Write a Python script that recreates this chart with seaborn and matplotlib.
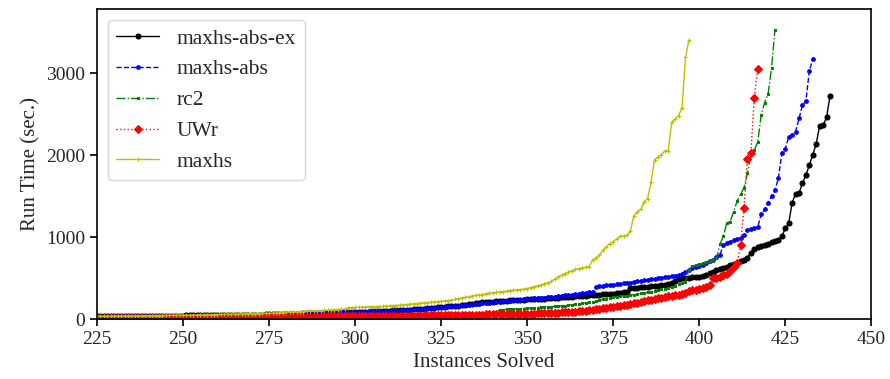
import matplotlib
matplotlib.use("Agg")
import matplotlib.pyplot as plt
import seaborn as sns
import numpy as np
import pandas as pd

# run times (sec.) of the k-th solved instance, starting at instance 225
start = 225

maxhs_abs_ex = [
    32, 32, 33, 33, 34, 34, 35, 35, 36, 36,
    37, 37, 38, 38, 39, 39, 40, 40, 41, 41,
    42, 42, 43, 43, 44, 44, 45, 45, 46, 46,
    47, 47, 48, 48, 49, 49, 50, 50, 51, 51,
    52, 52, 53, 53, 54, 54, 55, 55, 56, 57,
    58, 59, 60, 61, 62, 63, 64, 65, 66, 68,
    70, 71, 72, 73, 74, 75, 76, 77, 78, 80,
    82, 83, 84, 85, 86, 87, 88, 89, 90, 92,
    94, 96, 98, 100, 102, 104, 106, 108, 110, 112,
    114, 117, 120, 123, 126, 129, 132, 135, 138, 142,
    146, 150, 154, 158, 162, 166, 170, 176, 182, 188,
    194, 199, 203, 207, 210, 213, 216, 219, 222, 225,
    228, 231, 234, 236, 238, 240, 242, 244, 246, 248,
    251, 254, 257, 260, 263, 266, 269, 272, 275, 278,
    281, 284, 287, 290, 293, 296, 299, 302, 305, 308,
    311, 314, 322, 330, 335, 374, 378, 382, 386, 390,
    394, 398, 402, 405, 410, 418, 426, 435, 460, 484,
    496, 502, 506,
    508, 510, 512, 520, 540, 565, 580, 598, 610, 620,
    640, 655, 670, 690, 705, 720, 750, 810, 860, 875,
    890, 900, 915, 940, 955, 965, 1010, 1105, 1170, 1420,
    1530, 1535, 1660, 1755, 1880, 2005, 2140, 2360, 2365, 2460,
    2720,
]

maxhs_abs = [
    30, 30, 31, 31, 32, 32, 33, 33, 34, 34,
    35, 35, 36, 36, 37, 37, 38, 38, 39, 39,
    40, 40, 41, 41, 42, 42, 43, 43, 44, 44,
    45, 45, 46, 46, 47, 47, 48, 48, 49, 49,
    50, 50, 51, 51, 52, 52, 53, 53, 54, 55,
    56, 57, 58, 59, 60, 62, 64, 66, 68, 70,
    72, 73, 74, 75, 76, 77, 78, 79, 80, 82,
    84, 85, 86, 87, 88, 89, 90, 91, 92, 93,
    94, 96, 98, 100, 102, 104, 106, 108, 110, 112,
    114, 117, 120, 123, 126, 129, 132, 135, 138, 142,
    146, 150, 154, 158, 162, 166, 170, 174, 178, 182,
    186, 190, 194, 198, 202, 206, 210, 214, 218, 222,
    226, 230, 234, 238, 242, 246, 249, 252, 255, 258,
    262, 266, 270, 274, 279, 284, 289, 294, 300, 306,
    312, 318, 324, 330, 335, 395, 400, 405, 410, 415,
    420, 425, 430, 435, 440, 445, 452, 460, 467, 474,
    480, 486, 492, 498, 504, 510, 516, 522, 530, 540,
    555, 577, 600,
    626, 638, 650, 665, 690, 705, 720, 760, 780, 902,
    925, 943, 963, 975, 990, 1030, 1085, 1100, 1110, 1120,
    1280, 1340, 1410, 1500, 1570, 1720, 2020, 2080, 2220, 2250,
    2285, 2450, 2610, 2660, 3030, 3170,
]

rc2 = [
    22, 22, 23, 23, 24, 24, 25, 25, 26, 26,
    27, 27, 28, 28, 29, 29, 30, 30, 31, 31,
    32, 32, 33, 33, 34, 34, 35, 35, 36, 36,
    37, 37, 38, 38, 39, 39, 40, 40, 41, 41,
    42, 42, 43, 43, 44, 44, 45, 45, 46, 46,
    47, 47, 48, 48, 49, 49, 50, 50, 51, 51,
    52, 52, 53, 53, 54, 54, 55, 55, 56, 56,
    57, 57, 58, 58, 59, 59, 60, 60, 61, 61,
    62, 62, 63, 63, 64, 64, 65, 65, 66, 66,
    67, 67, 68, 68, 69, 69, 70, 70, 71, 71,
    72, 72, 73, 73, 74, 74, 75, 75, 76, 76,
    77, 77, 77, 78, 78, 78, 79, 115, 117, 119,
    121, 123, 125, 127, 129, 131, 134, 137, 140, 143,
    146, 149, 152, 155, 158, 162, 166, 170, 175, 181,
    187, 193, 199, 205, 211, 220, 230, 240, 250, 258,
    264, 270, 276, 281, 287, 293, 300, 306, 313, 320,
    328, 336, 345, 354, 362, 370, 378, 394, 405, 427,
    440, 455, 600,
    646, 660, 667, 679, 699, 710, 725, 740, 910, 1010,
    1170, 1190, 1310, 1440, 1520, 1600, 1780, 2000, 2060, 2160,
    2490, 2640, 2740, 3060, 3530,
]

uwr = [
    10, 10, 10, 11, 11, 11, 12, 12, 12, 13,
    13, 13, 14, 14, 14, 15, 15, 15, 16, 16,
    16, 17, 17, 17, 18, 18, 18, 19, 19, 19,
    20, 20, 20, 21, 21, 21, 22, 22, 22, 23,
    23, 23, 24, 24, 24, 25, 25, 25, 26, 26,
    26, 27, 27, 27, 28, 28, 28, 29, 29, 29,
    30, 30, 30, 31, 31, 31, 32, 32, 32, 33,
    33, 33, 34, 34, 34, 35, 35, 35, 36, 36,
    37, 37, 38, 38, 39, 39, 40, 40, 41, 41,
    42, 42, 43, 43, 44, 44, 45, 45, 46, 46,
    47, 47, 48, 48, 49, 49, 50, 51, 52, 53,
    54, 55, 56, 57, 58, 59, 60, 61, 62, 63,
    64, 64, 65, 65, 66, 66, 67, 68, 69, 70,
    72, 74, 76, 78, 80, 82, 84, 86, 89, 92,
    96, 100, 104, 108, 113, 118, 124, 130, 136, 142,
    148, 154, 160, 168, 176, 184, 192, 201, 211, 220,
    229, 238, 246, 254, 262, 270, 278, 285, 293, 300,
    306, 313, 341,
    350, 355, 362, 375, 390, 420, 500, 505, 515, 535,
    555, 590, 630, 680, 900, 1360, 1950, 2030, 2700, 3050,
]

maxhs = [
    35, 35, 36, 36, 37, 37, 38, 38, 39, 39,
    40, 40, 41, 41, 42, 42, 43, 43, 44, 44,
    45, 45, 46, 46, 47, 47, 48, 48, 49, 50,
    51, 52, 53, 54, 55, 56, 57, 58, 59, 60,
    61, 62, 63, 64, 65, 66, 67, 68, 69, 70,
    72, 74, 76, 78, 80, 82, 84, 86, 88, 90,
    92, 94, 96, 98, 100, 103, 106, 109, 112, 115,
    117, 119, 121, 138, 140, 142, 144, 146, 148, 150,
    151, 152, 153, 155, 158, 160, 163, 166, 170, 174,
    178, 182, 186, 190, 194, 198, 202, 206, 210, 214,
    218, 222, 226, 232, 240, 250, 258, 266, 272, 280,
    288, 293, 300, 310, 315, 320, 325, 330, 336, 342,
    348, 352, 356, 360, 364, 372, 385, 395, 405,
    415, 430, 445, 460, 490, 515, 535, 555, 575, 590,
    605, 615, 625, 632, 640, 720, 750, 780, 840, 885,
    920, 945, 980, 1010, 1015, 1020, 1077, 1260, 1310, 1340,
    1430, 1470, 1675, 1940, 1980, 2005, 2050, 2055, 2400, 2440,
    2480, 2580, 3190, 3400,
]

series = [
    ("maxhs-abs-ex", maxhs_abs_ex, "#000000", "-", "o", 3.6),
    ("maxhs-abs", maxhs_abs, "#0000ff", "--", "o", 2.6),
    ("rc2", rc2, "#008000", "-.", "s", 2.0),
    ("UWr", uwr, "#ff0000", ":", "D", 4.0),
    ("maxhs", maxhs, "#bfbf00", "-", "+", 3.0),
]

sns.set_theme(style="ticks")
plt.rcParams["font.family"] = ["Liberation Serif", "DejaVu Serif"]

fig, ax = plt.subplots(figsize=(8.9, 3.79), dpi=100)

for name, vals, color, ls, marker, ms in series:
    df = pd.DataFrame({"solved": np.arange(start, start + len(vals)), "time": vals})
    sns.lineplot(data=df, x="solved", y="time", ax=ax, color=color, linestyle=ls,
                 marker=marker, markersize=ms, markeredgecolor=color,
                 markeredgewidth=0.8, linewidth=1.0, label=name)

ax.set_xlim(225, 450)
ax.set_ylim(0, 3780)
ax.set_xticks([225, 250, 275, 300, 325, 350, 375, 400, 425, 450])
ax.set_yticks([0, 1000, 2000, 3000])
ax.set_xlabel("Instances Solved", fontsize=15)
ax.set_ylabel("Run Time (sec.)", fontsize=15)
ax.tick_params(axis="both", labelsize=14, direction="out", length=5, width=1.2, color="black")
for sp in ax.spines.values():
    sp.set_color("black")
    sp.set_linewidth(1.2)

leg = ax.legend(loc="upper left", fontsize=15.5, frameon=True, handlelength=2.0)
leg.get_frame().set_edgecolor("0.8")

plt.subplots_adjust(left=0.109, right=0.979, top=0.976, bottom=0.158)
plt.savefig("out.png", dpi=100)
